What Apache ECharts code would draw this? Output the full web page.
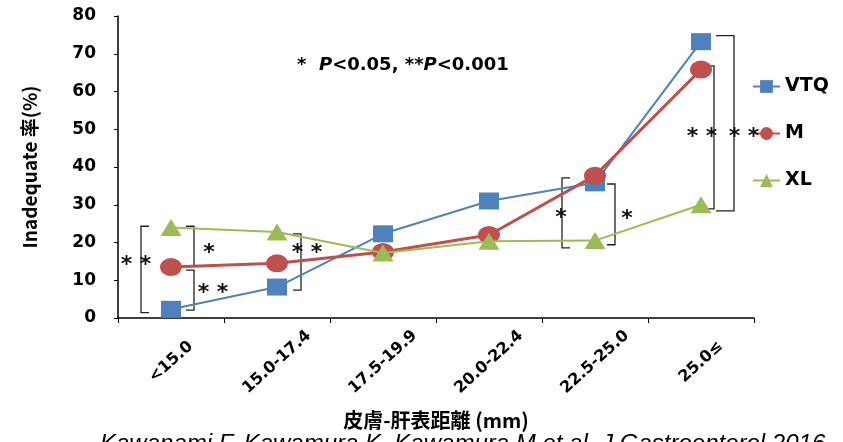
<!DOCTYPE html>
<html>
<head>
<meta charset="utf-8">
<script src="https://cdn.jsdelivr.net/npm/echarts@6/dist/echarts.min.js"></script>
<style>
html,body{margin:0;padding:0;background:#fff;}
#c{width:843px;height:442px;}
</style>
</head>
<body>
<div id="c"></div>
<script>
// ---- data ----
var categories = ['<15.0', '15.0-17.4', '17.5-19.9', '20.0-22.4', '22.5-25.0', '25.0\u2264'];
var vtq = [2.3, 8.2, 22.3, 31.0, 35.8, 73.2];
var m   = [13.5, 14.5, 17.5, 22.0, 37.7, 65.8];
var xl  = [24.0, 22.8, 17.2, 20.3, 20.5, 30.0];
var yTicks = [0, 10, 20, 30, 40, 50, 60, 70, 80];
// significance brackets: [category index, low value, high value]
var brackets = [
  [0, 1.4, 24.3],
  [0, 13.8, 24.3],
  [0, 2.1, 12.7],
  [1, 7.4, 22.3],
  [4, 18.6, 37.1],
  [4, 19.4, 35.5],
  [5, 28.9, 66.8],
  [5, 28.4, 74.8]
];
// significance marks: [category index, value, text]
var marks = [
  [0, 15.4, '* *'],
  [0, 18.6, '*'],
  [0, 8.0, '* *'],
  [1, 18.6, '* *'],
  [4, 27.8, '*'],
  [4, 27.6, '*'],
  [5, 49.3, '* *'],
  [5, 49.3, '* *']
];

// ---- layout (pixel offsets, not data) ----
var bracketLayout = [ // [dx, tick direction, tick length]
  [-30, 1, 8], [23, -1, 8], [23, -1, 8], [24, -1, 8],
  [-33, 1, 8], [20, -1, 8], [13, -1, 10], [33, -1, 18]
];
var markDx = [-35, 38, 42, 30, -34, 32, 1, 43];

var chart = echarts.init(document.getElementById('c'));
var boldFont = 'DejaVu Sans';
chart.setOption({
  animation: false,
  backgroundColor: '#fff',
  grid: {left: 118, right: 89, top: 16, bottom: 124, containLabel: false},
  legend: {
    orient: 'vertical', left: 752, top: 77, itemGap: 28,
    itemWidth: 27, itemHeight: 16, padding: 0,
    data: ['VTQ', 'M', 'XL'],
    textStyle: {fontFamily: boldFont, fontWeight: 'bold', fontSize: 19, color: '#000'}
  },
  xAxis: {
    type: 'category', data: categories, boundaryGap: true,
    axisLine: {lineStyle: {color: '#000', width: 1.5}},
    axisTick: {show: true, length: 5, interval: 0, lineStyle: {color: '#000'}},
    axisLabel: {
      interval: 0, rotate: 42, margin: 44, align: 'center', verticalAlign: 'middle',
      fontFamily: boldFont, fontWeight: 'bold', fontSize: 16, color: '#000'
    },
    name: '皮膚-肝表距離 (mm)', nameLocation: 'middle', nameGap: 92,
    nameTextStyle: {fontFamily: 'Noto Sans CJK JP', fontWeight: 'bold', fontSize: 20, color: '#000'},
    splitLine: {show: false}
  },
  yAxis: {
    type: 'value', min: yTicks[0], max: yTicks[yTicks.length - 1], interval: 10,
    axisLine: {show: true, lineStyle: {color: '#000', width: 1.5}},
    axisTick: {show: true, length: 4, lineStyle: {color: '#000'}},
    axisLabel: {margin: 22, fontFamily: boldFont, fontWeight: 'bold', fontSize: 17, color: '#000'},
    splitLine: {show: false},
    name: 'Inadequate 率(%)', nameLocation: 'middle', nameGap: 79, nameRotate: 90,
    nameTextStyle: {fontFamily: 'Noto Sans CJK JP', fontWeight: 'bold', fontSize: 19, color: '#000'}
  },
  graphic: [
    {
      type: 'text', left: 297, top: 56,
      style: {
        text: '{b|*  }{i|P}{b|<0.05, **}{i|P}{b|<0.001}',
        rich: {
          b: {fontFamily: boldFont, fontWeight: 'bold', fontSize: 18, fill: '#000'},
          i: {fontFamily: boldFont, fontWeight: 'bold', fontStyle: 'italic', fontSize: 18, fill: '#000'}
        }
      }
    },
    {
      type: 'text', left: 100, top: 432,
      style: {
        text: 'Kawanami F, Kawamura K, Kawamura M et al. J Gastroenterol 2016',
        font: 'italic 24px "Liberation Sans"', fill: '#000'
      }
    }
  ],
  series: [
    {
      name: 'VTQ', type: 'line', data: vtq, z: 3,
      symbol: 'rect', symbolSize: [20, 17],
      lineStyle: {color: '#4F81BD', width: 2},
      itemStyle: {color: '#4F81BD'}
    },
    {
      name: 'M', type: 'line', data: m, z: 4,
      symbol: 'circle', symbolSize: [22, 18],
      lineStyle: {color: '#C0504D', width: 3},
      itemStyle: {color: '#C0504D'}
    },
    {
      name: 'XL', type: 'line', data: xl, z: 5,
      symbol: 'triangle', symbolSize: [21, 17],
      lineStyle: {color: '#9BBB59', width: 2},
      itemStyle: {color: '#9BBB59'}
    },
    {
      type: 'custom', data: brackets, z: 2, silent: true,
      renderItem: function (params, api) {
        var lay = bracketLayout[params.dataIndex];
        var lo = api.coord([api.value(0), api.value(1)]);
        var hi = api.coord([api.value(0), api.value(2)]);
        var x = lo[0] + lay[0];
        var t = lay[1] * lay[2];
        return {
          type: 'polyline',
          shape: {points: [[x + t, hi[1]], [x, hi[1]], [x, lo[1]], [x + t, lo[1]]]},
          style: {stroke: '#222', lineWidth: 1.3, fill: null}
        };
      }
    },
    {
      type: 'custom', data: marks, z: 6, silent: true,
      renderItem: function (params, api) {
        var p = api.coord([api.value(0), api.value(1)]);
        return {
          type: 'text',
          x: p[0] + markDx[params.dataIndex], y: p[1] + 5,
          style: {
            text: marks[params.dataIndex][2], align: 'center', verticalAlign: 'middle',
            fontFamily: boldFont, fontWeight: 'bold', fontSize: 22, fill: '#111'
          }
        };
      }
    }
  ]
});
</script>
</body>
</html>
